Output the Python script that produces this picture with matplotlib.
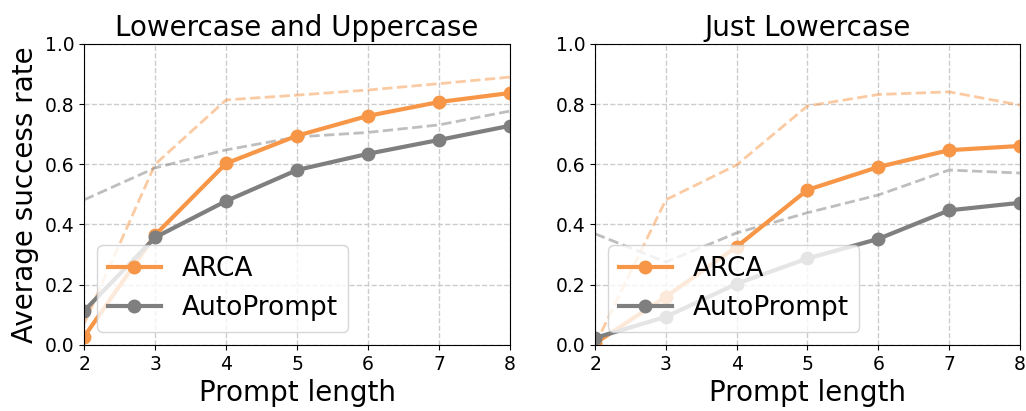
import matplotlib.pyplot as plt

prompt_len = [2, 3, 4, 5, 6, 7, 8]

# Lowercase and Uppercase
arca_lu = [0.027, 0.365, 0.603, 0.695, 0.761, 0.807, 0.837]
auto_lu = [0.113, 0.357, 0.478, 0.581, 0.635, 0.681, 0.728]
arca_lu_dash = [0.07, 0.60, 0.814, 0.83, 0.847, 0.868, 0.89]
auto_lu_dash = [0.482, 0.588, 0.648, 0.691, 0.706, 0.731, 0.777]

# Just Lowercase
arca_l = [0.005, 0.16, 0.326, 0.515, 0.591, 0.647, 0.661]
auto_l = [0.023, 0.093, 0.203, 0.287, 0.352, 0.447, 0.472]
arca_l_dash = [0.0, 0.482, 0.598, 0.794, 0.832, 0.841, 0.797]
auto_l_dash = [0.369, 0.275, 0.372, 0.439, 0.498, 0.581, 0.571]

titles = ['Lowercase and Uppercase', 'Just Lowercase']
orange = '#f79646'
gray = '#7f7f7f'

fig = plt.figure(figsize=(10.26, 4.11), dpi=100)
ax1 = fig.add_axes([0.082, 0.161, 0.415, 0.732])
ax2 = fig.add_axes([0.580, 0.161, 0.414, 0.732])

panels = [(ax1, arca_lu, auto_lu, arca_lu_dash, auto_lu_dash),
          (ax2, arca_l, auto_l, arca_l_dash, auto_l_dash)]

for i, (ax, arca, auto, arca_d, auto_d) in enumerate(panels):
    ax.plot(prompt_len, arca_d, '--', color=orange, alpha=0.5, lw=2)
    ax.plot(prompt_len, auto_d, '--', color=gray, alpha=0.5, lw=2)
    ax.plot(prompt_len, arca, '-o', color=orange, lw=3, ms=9, label='ARCA')
    ax.plot(prompt_len, auto, '-o', color=gray, lw=3, ms=9, label='AutoPrompt')
    ax.set_xlim(2, 8)
    ax.set_ylim(0, 1.0)
    ax.set_xticks(prompt_len)
    ax.set_yticks([0, 0.2, 0.4, 0.6, 0.8, 1.0])
    ax.tick_params(labelsize=13.5)
    ax.grid(True, ls='--', color='#cccccc', lw=1)
    ax.set_axisbelow(True)
    ax.set_title(titles[i], fontsize=20)
    ax.set_xlabel('Prompt length', fontsize=20)
    ax.legend(loc='lower left', fontsize=19)
    for s in ax.spines.values():
        s.set_clip_on(False)

ax1.set_ylabel('Average success rate', fontsize=20)

fig.savefig('out.png', dpi=100)
